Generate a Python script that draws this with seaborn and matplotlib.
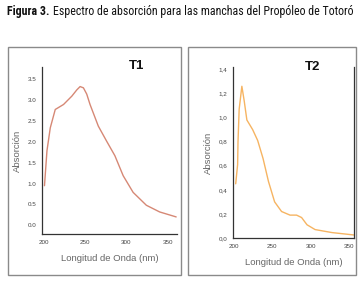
import numpy as np
import pandas as pd
import matplotlib
matplotlib.use('Agg')
import matplotlib.pyplot as plt
from matplotlib import font_manager
from matplotlib.patches import Rectangle
import seaborn as sns

# Spectrum T1
t1_wl = [201, 204, 208, 214, 224, 234, 240, 244, 248, 252, 256, 266, 276, 286, 296, 308, 324, 340, 360]
t1_abs = [0.95, 1.79, 2.34, 2.78, 2.9, 3.1, 3.25, 3.33, 3.3, 3.15, 2.9, 2.38, 2.02, 1.67, 1.19, 0.79, 0.48, 0.32, 0.2]

# Spectrum T2
t2_wl = [202.5, 205, 205.5, 207, 210.5, 213.5, 217, 224.5, 231, 238, 245, 253, 262, 273, 281.5, 288, 295, 305.5, 327.5, 356]
t2_abs = [0.45, 0.61, 0.8, 1.07, 1.26, 1.14, 0.98, 0.9, 0.81, 0.66, 0.47, 0.3, 0.22, 0.19, 0.19, 0.17, 0.11, 0.07, 0.045, 0.025]

x_ticks = [200, 250, 300, 350]
t1_yticks = [0.0, 0.5, 1.0, 1.5, 2.0, 2.5, 3.0, 3.5]
t2_yticks = [0.0, 0.2, 0.4, 0.6, 0.8, 1.0, 1.2, 1.4]

sns.set_style('white')
names = {f.name for f in font_manager.fontManager.ttflist}
narrow = None
for cand in ['Liberation Sans Narrow', 'DejaVu Sans Condensed', 'Roboto Condensed']:
    if cand in names:
        narrow = cand
        break
plt.rcParams['font.family'] = ['Liberation Sans', 'DejaVu Sans']

fig = plt.figure(figsize=(3.62, 2.92), dpi=100)
W, H = 362, 292

def fx(p):
    return p / W

def fy(p):
    return 1 - p / H

# panel frames
for x0, x1 in [(8, 181), (188, 356)]:
    fig.patches.append(Rectangle((fx(x0), fy(275)), fx(x1 - x0), (275 - 47) / H,
                                 transform=fig.transFigure, fill=False,
                                 edgecolor='#8a8a8a', linewidth=1.0))

ax1 = fig.add_axes([fx(42), fy(234), fx(177 - 42), (234 - 67) / H])
ax2 = fig.add_axes([fx(233), fy(238), fx(354 - 233), (238 - 67) / H])

df1 = pd.DataFrame({'wl': t1_wl, 'abs': t1_abs})
df2 = pd.DataFrame({'wl': t2_wl, 'abs': t2_abs})
sns.lineplot(data=df1, x='wl', y='abs', ax=ax1, color='#d68875', linewidth=1.0)
sns.lineplot(data=df2, x='wl', y='abs', ax=ax2, color='#f6b462', linewidth=1.0)

ax1.set_xlim(198, 361)
ax1.set_ylim(-0.21, 3.8)
ax2.set_xlim(199, 356)
ax2.set_ylim(0, 1.42)

for ax, yt, sep in [(ax1, t1_yticks, '.'), (ax2, t2_yticks, ',')]:
    ax.set_xticks(x_ticks)
    ax.set_xticklabels([str(v) for v in x_ticks])
    ax.set_yticks(yt)
    ax.set_yticklabels(['{:.1f}'.format(v).replace('.', sep) for v in yt])
    ax.tick_params(axis='both', labelsize=4.5, colors='#444444', length=2.5, width=0.6,
                   pad=1.5, direction='out')
    ax.minorticks_on()
    ax.tick_params(which='minor', length=1.5, width=0.5, color='#444444')
    ax.set_xlabel('Longitud de Onda (nm)', fontsize=6.8, color='#666666', labelpad=7)
    ax.set_ylabel('Absorción', fontsize=6.8, color='#666666', labelpad=4)
    for s in ['left', 'bottom']:
        ax.spines[s].set_color('#333333')
        ax.spines[s].set_linewidth(0.9)
    ax.patch.set_alpha(0)

ax1.spines['top'].set_visible(False)
ax1.spines['right'].set_visible(False)
ax2.spines['top'].set_visible(False)
ax2.spines['right'].set_color('#333333')
ax2.spines['right'].set_linewidth(0.9)
ax1.xaxis.set_minor_locator(matplotlib.ticker.MultipleLocator(25))
ax2.xaxis.set_minor_locator(matplotlib.ticker.MultipleLocator(25))
ax1.yaxis.set_minor_locator(matplotlib.ticker.MultipleLocator(0.25))
ax2.yaxis.set_minor_locator(matplotlib.ticker.MultipleLocator(0.1))

fig.text(fx(137), fy(66), 'T1', fontsize=9.5, fontweight='bold', ha='center', va='center', color='#111111')
fig.text(fx(313), fy(67), 'T2', fontsize=9.5, fontweight='bold', ha='center', va='center', color='#111111')

# title: bold "Figura 3." + regular remainder, fitted to the reference width
tfam = [narrow, 'DejaVu Sans'] if narrow else ['DejaVu Sans']
renderer = fig.canvas.get_renderer()
size = 8.0
for _ in range(3):
    t_b = fig.text(fx(7), fy(11), 'Figura 3.', fontsize=size, fontweight='bold',
                   family=tfam, va='center', ha='left', color='#111111')
    bb = t_b.get_window_extent(renderer)
    t_r = fig.text(bb.x1 / W + fx(3), fy(11), 'Espectro de absorción para las manchas del Propóleo de Totoró',
                   fontsize=size, family=tfam, va='center', ha='left', color='#111111')
    bb2 = t_r.get_window_extent(renderer)
    total = bb2.x1 - bb.x0
    if abs(total - 348) < 3:
        break
    t_b.remove()
    t_r.remove()
    size = size * 348 / total

fig.savefig('out.png', dpi=100)
